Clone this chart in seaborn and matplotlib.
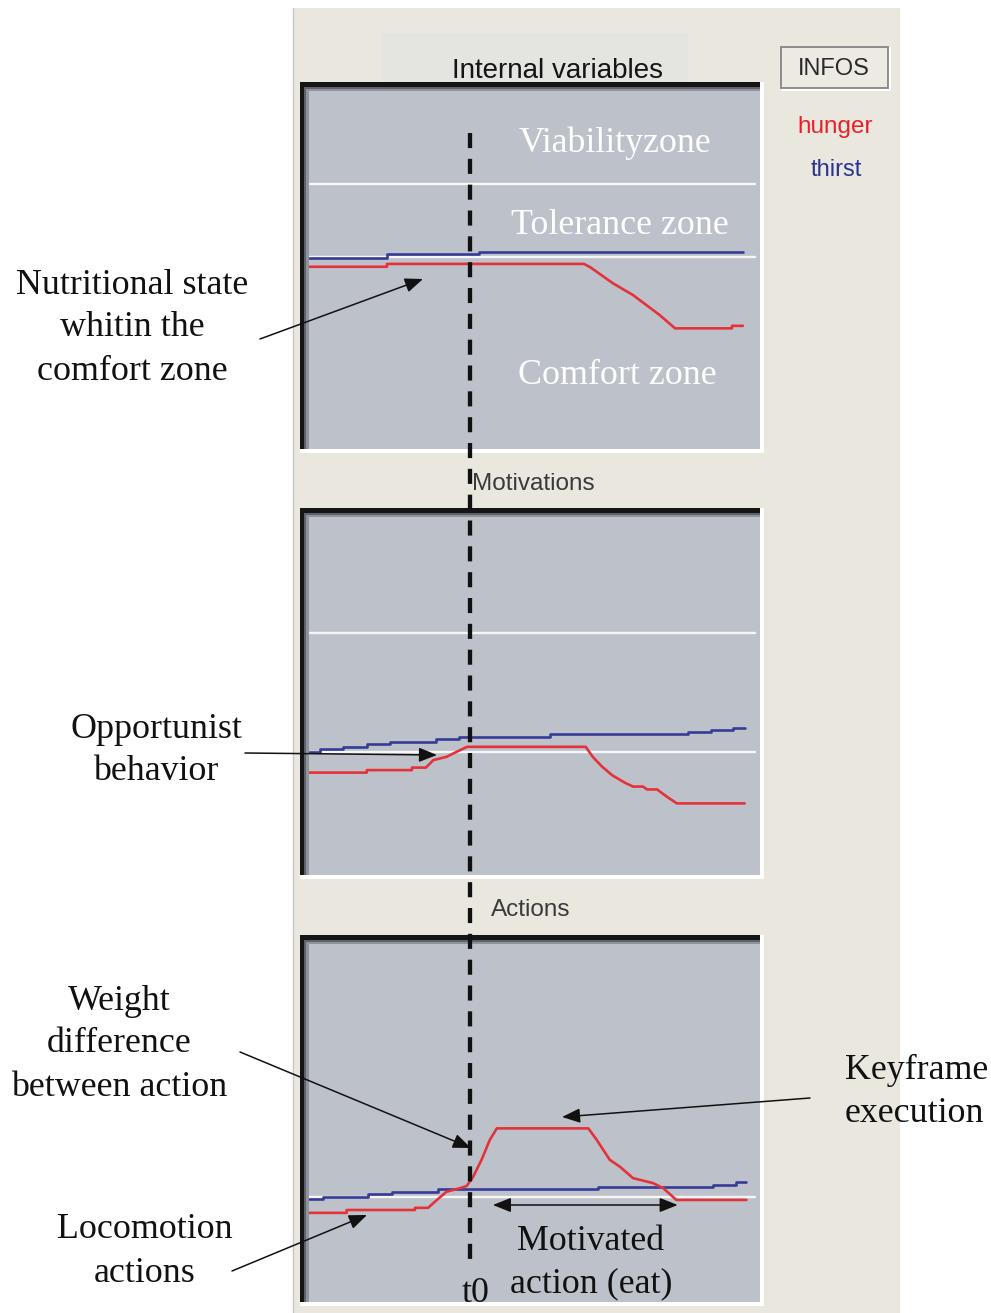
import matplotlib
matplotlib.use("Agg")
import matplotlib.pyplot as plt
import matplotlib.transforms as mtransforms
from matplotlib.patches import Rectangle
import pandas as pd
import seaborn as sns

# ---------------------------------------------------------------------------
# Data: time runs 0-100 across the recorded window, each panel's level 0-100
# ---------------------------------------------------------------------------
T0 = 36.8  # instant marked "t0"

# Internal variables
iv_hunger_t = [0, 17.8, 17.8, 62.8, 64.2, 69.4, 74.0, 80.1, 83.6, 96.6, 96.6, 99.1]
iv_hunger_v = [50.9, 50.9, 51.7, 51.7, 50.8, 46.3, 43.0, 37.4, 33.7, 33.7, 34.4, 34.4]
iv_thirst_edges = [0, 17.8, 38.8, 99.1]
iv_thirst_levels = [53.4, 54.4, 54.9]
iv_zones = [74.0, 53.5]

# Motivations
mo_hunger_t = [0, 13.2, 13.2, 23.5, 23.5, 26.7, 28.4, 31.4, 33.7, 36.1, 63.2, 64.8,
               66.9, 69.2, 72.1, 74.0, 76.3, 77.2, 79.5, 81.7, 84.0, 99.5]
mo_hunger_v = [28.6, 28.6, 29.3, 29.3, 30.0, 30.0, 32.1, 33.0, 34.4, 35.8, 35.8, 33.0,
               30.3, 27.9, 25.8, 24.7, 24.7, 23.9, 23.9, 21.9, 20.0, 20.0]
mo_thirst_edges = [0, 2.6, 7.8, 13.2, 18.5, 29.0, 34.3, 55.0, 86.6, 91.9, 96.9, 99.5]
mo_thirst_levels = [34.4, 35.1, 35.8, 36.6, 37.2, 37.9, 38.6, 39.3, 39.9, 40.5, 41.1]
mo_zones = [67.6, 34.4]

# Actions
ac_hunger_t = [0, 8.6, 8.6, 24.2, 24.2, 27.2, 29.2, 31.4, 34.5, 36.0, 37.5, 39.4, 41.3,
               42.9, 63.8, 65.7, 68.7, 71.0, 74.0, 76.3, 78.6, 80.9, 83.9, 99.9]
ac_hunger_v = [24.9, 24.9, 25.7, 25.7, 26.3, 26.3, 28.5, 30.8, 31.8, 32.4, 35.0, 39.7, 45.3,
               48.5, 48.5, 45.3, 39.7, 37.8, 34.6, 33.9, 33.2, 31.8, 28.5, 28.5]
ac_thirst_edges = [0, 3.1, 13.5, 18.9, 29.5, 66.0, 92.3, 97.6, 99.9]
ac_thirst_levels = [28.8, 29.4, 30.1, 30.7, 31.5, 32.0, 32.7, 33.5]
ac_zones = [29.4]

# Motivated action (eat) span
eat_start, eat_end = 42.0, 84.2

# ---------------------------------------------------------------------------
W, H = 991, 1313
BEIGE = "#E9E7DE"
GRAY = "#BDC2CA"
RED = "#E5323A"
BLUE = "#363B96"
PALETTE = {"hunger": RED, "thirst": BLUE}
SERIF = ["Liberation Serif", "DejaVu Serif"]
SANS = ["Liberation Sans", "DejaVu Sans"]

sns.set_theme(style="white")
plt.rcParams["font.family"] = SERIF

fig = plt.figure(figsize=(W / 100, H / 100), dpi=100)
fig.patch.set_facecolor("white")

# window background in pixel units (y downwards)
bg = fig.add_axes([0, 0, 1, 1], zorder=0)
bg.set_xlim(0, W)
bg.set_ylim(H, 0)
bg.axis("off")
bg.add_patch(Rectangle((293, 8), 607, H - 8, fc=BEIGE, ec="none"))
bg.plot([292.5, 292.5], [8, H], color="#C6C6C6", lw=1)
bg.add_patch(Rectangle((382, 33), 306, 50, fc="#E4E4E0", ec="none"))
bg.add_patch(Rectangle((781, 47), 107, 41, fc="#ECEAE3", ec="#8C8C8C", lw=1.4))
bg.plot([782, 890, 890], [90, 90, 48], color="white", lw=1.5)


def step_vertices(edges, levels):
    t, v = [], []
    for a, b, lev in zip(edges[:-1], edges[1:], levels):
        t += [a, b]
        v += [lev, lev]
    return t, v


def chart(top, bottom, hunger_t, hunger_v, thirst_edges, thirst_levels, zones):
    # sunken bevel around the plotting area
    to, bo = top - 9, bottom + 4
    bg.add_patch(Rectangle((300, to), 464, bo - to, fc="white", ec="none"))
    bg.add_patch(Rectangle((300, to), 460, bottom - to, fc="#151515", ec="none"))
    bg.add_patch(Rectangle((304, to + 4.5), 456, bottom - to - 4.5, fc="#5F6268", ec="none"))
    bg.add_patch(Rectangle((306, to + 6.5), 454, bottom - to - 6.5, fc="#8F949C", ec="none"))

    ax = fig.add_axes([309 / W, 1 - bottom / H, (760 - 309) / W, (bottom - top) / H], zorder=1)
    ax.set_facecolor(GRAY)
    for z in zones:
        ax.axhline(z, xmin=0, xmax=0.989, color="#F6F6F6", lw=1.7, zorder=1)

    th_t, th_v = step_vertices(thirst_edges, thirst_levels)
    df = pd.concat([
        pd.DataFrame({"t": th_t, "value": th_v, "variable": "thirst"}),
        pd.DataFrame({"t": hunger_t, "value": hunger_v, "variable": "hunger"}),
    ], ignore_index=True)
    sns.lineplot(data=df, x="t", y="value", hue="variable", hue_order=["thirst", "hunger"],
                 palette=PALETTE, estimator=None, sort=False, legend=False, ax=ax, lw=1.9)
    ax.set_xlim(0, 103)
    ax.set_ylim(0, 100)
    ax.set_xticks([])
    ax.set_yticks([])
    ax.set_xlabel("")
    ax.set_ylabel("")
    for s in ax.spines.values():
        s.set_visible(False)
    return ax


ax1 = chart(91, 449, iv_hunger_t, iv_hunger_v, iv_thirst_edges, iv_thirst_levels, iv_zones)
ax2 = chart(517, 875, mo_hunger_t, mo_hunger_v, mo_thirst_edges, mo_thirst_levels, mo_zones)
ax3 = chart(944, 1302, ac_hunger_t, ac_hunger_v, ac_thirst_edges, ac_thirst_levels, ac_zones)

# overlay for labels and annotations, in pixel units
ov = fig.add_axes([0, 0, 1, 1], zorder=3)
ov.set_xlim(0, W)
ov.set_ylim(H, 0)
ov.axis("off")
ov.patch.set_alpha(0)
blend = mtransforms.blended_transform_factory(ax1.transData, ov.transData)

# window captions
ov.text(557, 71, "Internal variables", family=SANS, fontsize=20, color="#151515", ha="center", va="center")
ov.text(533, 484, "Motivations", family=SANS, fontsize=17.5, color="#3A3A3A", ha="center", va="center")
ov.text(531, 910, "Actions", family=SANS, fontsize=17.5, color="#3A3A3A", ha="center", va="center")
ov.text(834, 69, "INFOS", family=SANS, fontsize=17, color="#2A2A2A", ha="center", va="center")
ov.text(835, 127, "hunger", family=SANS, fontsize=17.5, color="#E8202A", ha="center", va="center")
ov.text(836, 170, "thirst", family=SANS, fontsize=17, color="#2B3390", ha="center", va="center")

# zone names
SZ = 25.8
for txt, x, y in [("Viabilityzone", 615, 143), ("Tolerance zone", 620, 226), ("Comfort zone", 617, 376)]:
    ov.text(x, y, txt, fontsize=SZ, color="white", ha="center", va="center")

# t0 marker
ov.plot([T0, T0], [133, 1265], transform=blend, color="#111111", lw=3.1,
        dashes=(3.5, 2.5), dash_capstyle="butt", clip_on=False)
ov.text(476, 1293, "t0", fontsize=SZ, color="#111111", ha="center", va="center")

# explanatory notes
notes = [
    (["Nutritional state", "whitin the", "comfort zone"], 132, [285, 328, 372], "center"),
    (["Opportunist", "behavior"], 156, [729, 772], "center"),
    (["Weight", "difference", "between action"], 119, [1001, 1044, 1088], "center"),
    (["Locomotion", "actions"], 145, [1230, 1274], "center"),
    (["Keyframe", "execution"], 845, [1070, 1113], "left"),
    (["Motivated", "action (eat)"], 591, [1241, 1284], "center"),
]
for lines, x, ys, ha in notes:
    for line, y in zip(lines, ys):
        ov.text(x, y, line, fontsize=SZ, color="#111111", ha=ha, va="center")

ARROW = dict(arrowstyle="-|>,head_length=0.55,head_width=0.22", mutation_scale=20,
             lw=1.1, color="#111111", shrinkA=0, shrinkB=0)
for tail, tip in [((260, 339), (423, 279)),
                  ((245, 753), (437, 755)),
                  ((240, 1052), (471, 1148)),
                  ((232, 1271), (367, 1215)),
                  ((810, 1098), (562, 1117))]:
    ov.annotate("", xy=tip, xytext=tail, arrowprops=ARROW, annotation_clip=False)

ov.annotate("", xy=(eat_end, 1205), xytext=(eat_start, 1205), xycoords=blend, textcoords=blend,
            arrowprops=dict(ARROW, arrowstyle="<|-|>,head_length=0.55,head_width=0.22"),
            annotation_clip=False)

fig.savefig("out.png", dpi=100, facecolor=fig.get_facecolor())
